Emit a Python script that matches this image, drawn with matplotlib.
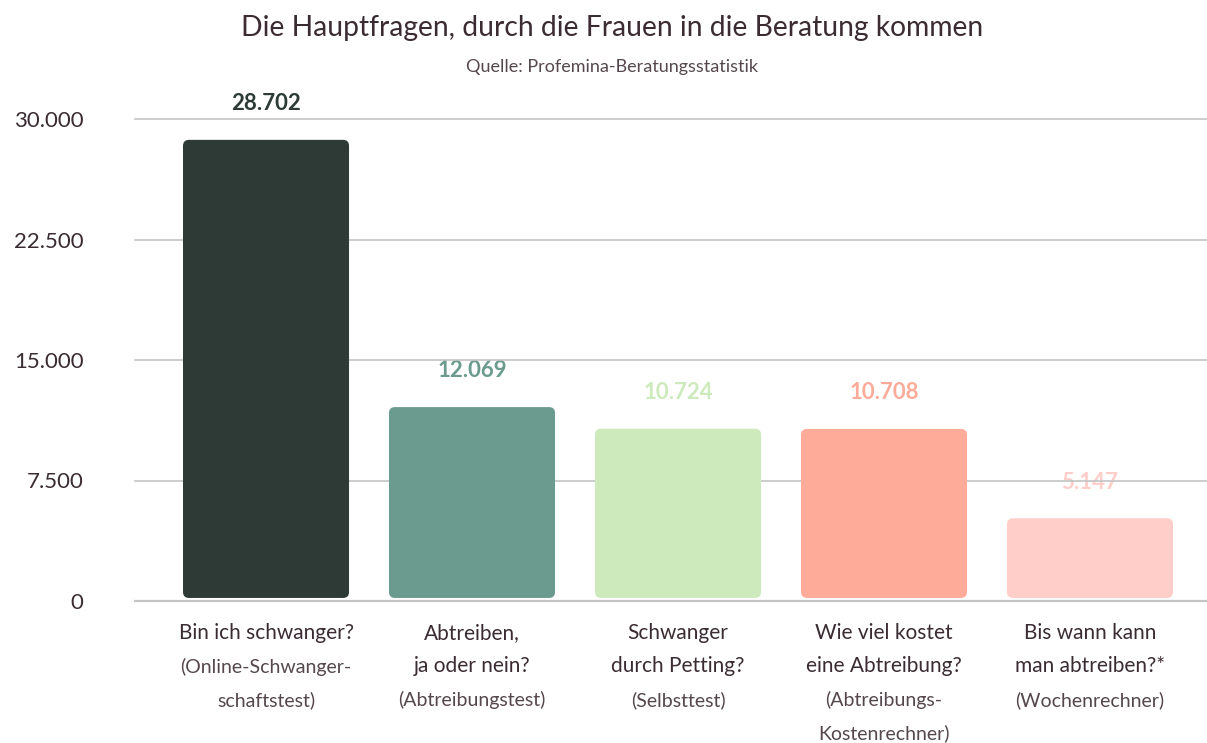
import matplotlib
matplotlib.use("Agg")
import matplotlib.pyplot as plt
from matplotlib.patches import FancyBboxPatch
import matplotlib.transforms as mtransforms

plt.rcParams['font.family'] = ['Lato', 'DejaVu Sans']

title = "Die Hauptfragen, durch die Frauen in die Beratung kommen"
subtitle = "Quelle: Profemina-Beratungsstatistik"
main_lines = [["Bin ich schwanger?"],
              ["Abtreiben,", "ja oder nein?"],
              ["Schwanger", "durch Petting?"],
              ["Wie viel kostet", "eine Abtreibung?"],
              ["Bis wann kann", "man abtreiben?*"]]
sub_lines = [["(Online-Schwanger-", "schaftstest)"],
             ["(Abtreibungstest)"],
             ["(Selbsttest)"],
             ["(Abtreibungs-", "Kostenrechner)"],
             ["(Wochenrechner)"]]
values = [28702, 12069, 10724, 10708, 5147]
value_labels = ["28.702", "12.069", "10.724", "10.708", "5.147"]
yticks = [0, 7500, 15000, 22500, 30000]
ytick_labels = ["0", "7.500", "15.000", "22.500", "30.000"]
colors = ["#2d3a35", "#6a9b8e", "#cdeabd", "#ffab9a", "#ffcec9"]

TEXT = "#3b2b33"
SUB = "#55474d"
W, H = 1207, 743
fig = plt.figure(figsize=(W / 100, H / 100), dpi=100)
ax = fig.add_axes([135 / W, 1 - 601 / H, (1207 - 135) / W, (601 - 119) / H])
ax.set_xlim(-0.636, 4.568)
ax.set_ylim(0, 30000)
for s in ax.spines.values():
    s.set_visible(False)
ax.set_xticks([])
ax.set_yticks(yticks)
ax.set_yticklabels(ytick_labels, fontsize=16, color=TEXT)
ax.tick_params(axis='y', length=0, pad=37)

for t in yticks:
    ax.axhline(t, color="#c4c4c4", lw=1.2 if t else 1.6, zorder=1.5, clip_on=False)

bw = 0.806
base = 190
for i, (v, c) in enumerate(zip(values, colors)):
    p = FancyBboxPatch((i - bw / 2, base), bw, v - base,
                       boxstyle="round,pad=0,rounding_size=0.029",
                       mutation_aspect=12860, fc=c, ec="none", zorder=2)
    ax.add_patch(p)
    ax.annotate(value_labels[i], (i, v), xytext=(0, 26), textcoords="offset points",
                ha="center", va="center", fontsize=16, fontweight="bold",
                color=c, zorder=1)

trans = mtransforms.blended_transform_factory(ax.transData, fig.transFigure)
line_h = 33.5
for i in range(len(values)):
    y = 633
    for ln in main_lines[i]:
        ax.text(i, 1 - y / H, ln, transform=trans, ha="center", va="center",
                fontsize=15, color=TEXT, clip_on=False)
        y += line_h
    for ln in sub_lines[i]:
        ax.text(i, 1 - y / H, ln, transform=trans, ha="center", va="center",
                fontsize=14, color=SUB, clip_on=False)
        y += line_h

fig.text(612 / W, 1 - 28 / H, title, ha="center", va="center", fontsize=20.3,
         color=TEXT)
fig.text(612 / W, 1 - 67 / H, subtitle, ha="center", va="center", fontsize=13,
         color=SUB)

fig.savefig("out.png", dpi=100)
